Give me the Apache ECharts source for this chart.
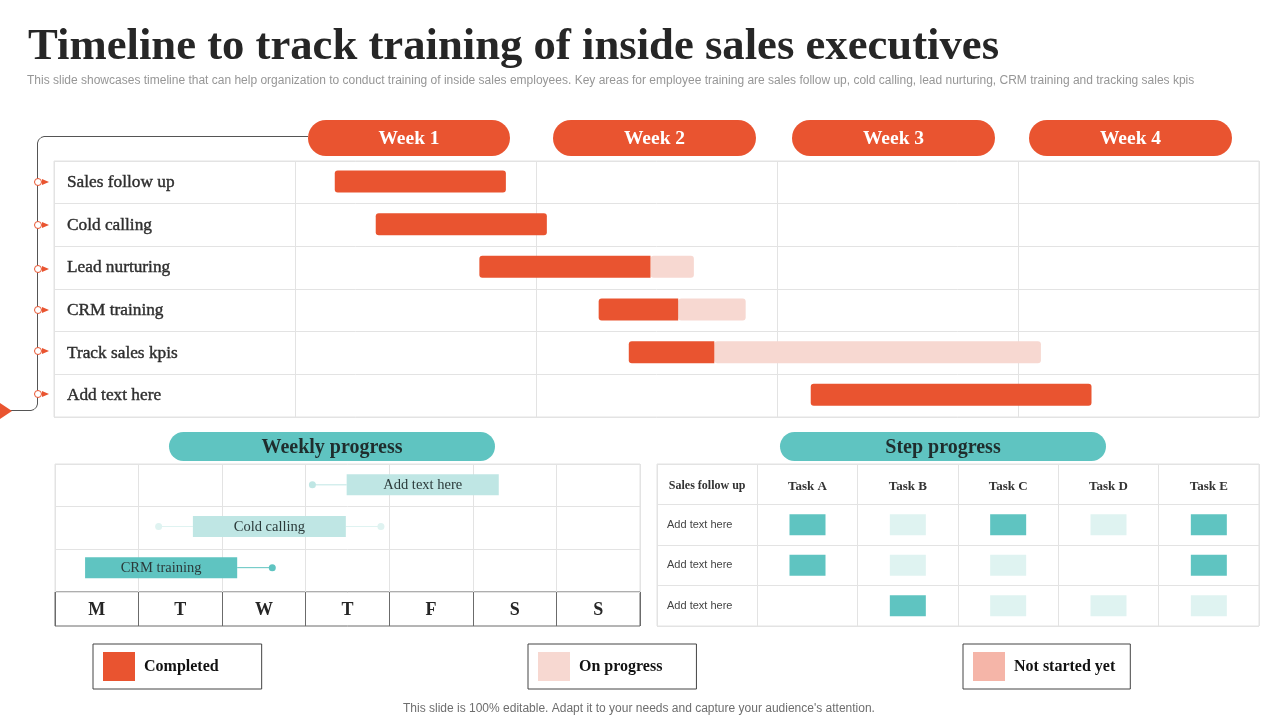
<!DOCTYPE html>
<html>
<head>
<meta charset="utf-8">
<title>Timeline to track training of inside sales executives</title>
<script src="https://cdn.jsdelivr.net/npm/echarts@6/dist/echarts.min.js"></script>
<style>
  html, body { margin: 0; padding: 0; background: #fff; }
  #chart { width: 1280px; height: 720px; }
</style>
</head>
<body>
<div id="chart"></div>
<script>
// main gantt, values are in weeks from the start of week 1
const weekLabels = ["Week 1", "Week 2", "Week 3", "Week 4"];
const taskNames = ["Sales follow up", "Cold calling", "Lead nurturing", "CRM training", "Track sales kpis", "Add text here"];
const taskStart = [0.165, 0.335, 0.765, 1.26, 1.385, 2.14];
const completedEnd = [0.875, 1.045, 1.475, 1.59, 1.74, 3.305];
const progressEnd = [null, null, 1.655, 1.87, 3.095, null];

// weekly progress, values are in days from monday
const dayLabels = ["M", "T", "W", "T", "F", "S", "S"];
const weeklyNames = ["Add text here", "Cold calling", "CRM training"];
const weeklyStart = [3.49, 1.65, 0.36];
const weeklyEnd = [5.31, 3.48, 2.18];
const weeklyFrom = [3.08, 1.24, null];
const weeklyTo = [null, 3.9, 2.6];

// step progress: 2 = done, 1 = pending, 0 = nothing
const stepHeaders = ["Sales follow up", "Task A", "Task B", "Task C", "Task D", "Task E"];
const stepRowNames = ["", "Add text here", "Add text here", "Add text here"];
const stepRow1 = [2, 1, 2, 1, 2];
const stepRow2 = [2, 1, 1, 0, 2];
const stepRow3 = [0, 2, 1, 1, 1];

const RED = "#E95430";
const RED_LIGHT = "#F7D8D1";
const RED_MID = "#F5B5A8";
const TEAL = "#5FC4C1";
const TEAL_MID = "#BFE6E4";
const TEAL_LIGHT = "#DFF3F1";
const GRID_LINE = "#E3E3E3";
const SERIF = "'Liberation Serif'";
const SANS = "'Liberation Sans'";

const chart = echarts.init(document.getElementById("chart"));

function pill(left, top, width, height, fill, text, color, size) {
  return [
    {
      type: "rect",
      shape: { x: left, y: top, width: width, height: height, r: height / 2 },
      style: { fill: fill },
      z: 5,
    },
    {
      type: "text",
      x: left + width / 2,
      y: top + height / 2 + 1,
      style: { text: text, fill: color, font: "bold " + size + "px " + SERIF, align: "center", verticalAlign: "middle" },
      z: 6,
    },
  ];
}

function marker(y) {
  return [
    { type: "polygon", shape: { points: [[42, y - 3], [49, y], [42, y + 3]] }, style: { fill: RED }, z: 6 },
    { type: "circle", shape: { cx: 38, cy: y, r: 3.5 }, style: { fill: "#fff", stroke: RED, lineWidth: 1 }, z: 6 },
  ];
}

const connector = {
  type: "polyline",
  shape: {
    points: [[308, 136.5], [44, 136.5], [41, 137.5], [38.5, 140], [37.5, 143], [37.5, 404], [36.5, 407], [34, 409.5], [31, 410.5], [8, 410.5]],
  },
  style: { stroke: "#555", lineWidth: 1, fill: null },
  z: 4,
};

const graphics = [
  connector,
  { type: "polygon", shape: { points: [[0, 403], [12, 411], [0, 419]] }, style: { fill: RED }, z: 6 },
  ...pill(308, 120, 202, 36, RED, weekLabels[0], "#fff", 19.5),
  ...pill(553, 120, 203, 36, RED, weekLabels[1], "#fff", 19.5),
  ...pill(792, 120, 203, 36, RED, weekLabels[2], "#fff", 19.5),
  ...pill(1029, 120, 203, 36, RED, weekLabels[3], "#fff", 19.5),
  ...pill(169, 432, 326, 29, TEAL, "Weekly progress", "#1F2D2D", 20),
  ...pill(780, 432, 326, 29, TEAL, "Step progress", "#1F2D2D", 20),
];
[182, 225, 269, 310, 351, 394].forEach((y) => graphics.push(...marker(y)));

// bars of the main gantt, one rect per row between two axis values
function renderRange(params, api) {
  const a = api.coord([api.value(1), api.value(0)]);
  const b = api.coord([api.value(2), api.value(0)]);
  const h = 22;
  return {
    type: "rect",
    shape: { x: a[0], y: a[1] - h / 2 - 0.8, width: b[0] - a[0], height: h, r: api.value(3) ? [3, 0, 0, 3] : 3 },
    style: { fill: api.visual("color") },
  };
}

// weekly bars with the thin whisker and end dots
function renderWeekly(params, api) {
  const i = params.dataIndex;
  const a = api.coord([weeklyStart[i], i]);
  const b = api.coord([weeklyEnd[i], i]);
  // bars sit a little above the row centre, more so lower down
  const y = a[1] - [0.5, 1.5, 3][i];
  const fill = [TEAL_MID, TEAL_MID, TEAL][i];
  const thin = [TEAL_MID, TEAL_LIGHT, TEAL][i];
  const children = [];
  [[weeklyFrom[i], a[0]], [weeklyTo[i], b[0]]].forEach((w) => {
    if (w[0] === null) return;
    const px = api.coord([w[0], i])[0];
    children.push({ type: "line", shape: { x1: px, y1: y, x2: w[1], y2: y }, style: { stroke: thin, lineWidth: 1 } });
    children.push({ type: "circle", shape: { cx: px, cy: y, r: 3.5 }, style: { fill: thin } });
  });
  children.push({ type: "rect", shape: { x: a[0], y: y - 10.5, width: b[0] - a[0], height: 21 }, style: { fill: fill } });
  children.push({
    type: "text",
    x: (a[0] + b[0]) / 2,
    y: y + 0.5,
    style: { text: weeklyNames[i], align: "center", verticalAlign: "middle", fill: "#2b3a3a", font: "14.5px " + SERIF },
  });
  return { type: "group", children: children };
}

const completedData = taskNames.map((n, i) => [i, taskStart[i], completedEnd[i], progressEnd[i] === null ? 0 : 1]);
const progressData = taskNames.map((n, i) => [i, completedEnd[i], progressEnd[i]]).filter((d) => d[2] !== null);

function stepCells(level) {
  const cells = [];
  [stepRow1, stepRow2, stepRow3].forEach((row, r) => {
    row.forEach((v, c) => {
      if (v === level) cells.push([c + 1, r + 1]);
    });
  });
  return cells;
}

function legendBox(name, left, rightPad) {
  return {
    data: [name],
    left: left,
    top: 644,
    padding: [8, rightPad, 8, 10],
    itemWidth: 32,
    itemHeight: 29,
    icon: "rect",
    selectedMode: false,
    borderColor: "#444",
    borderWidth: 1,
    textStyle: { fontFamily: SERIF, fontWeight: "bold", fontSize: 16, color: "#111", padding: [0, 0, 8, 4] },
  };
}

chart.setOption({
  animation: false,
  backgroundColor: "#fff",
  title: [
    {
      text: "Timeline to track training of inside sales executives",
      left: 28, top: 25, padding: 0,
      textStyle: { fontFamily: SERIF, fontWeight: "bold", fontSize: 44.7, color: "#262626" },
    },
    {
      text: "This slide showcases timeline that can help organization to conduct training of inside sales employees. Key areas for employee training are sales follow up, cold calling, lead nurturing, CRM training and tracking sales kpis",
      left: 27, top: 75, padding: 0,
      textStyle: { fontFamily: SANS, fontWeight: "normal", fontSize: 12, color: "#969696" },
    },
    {
      text: "This slide is 100% editable. Adapt it to your needs and capture your audience's attention.",
      left: 403, top: 703, padding: 0,
      textStyle: { fontFamily: SANS, fontWeight: "normal", fontSize: 12, color: "#6E6E6E" },
    },
  ],
  legend: [
    legendBox("Completed", 93, 43),
    legendBox("On progress", 528, 34),
    legendBox("Not started yet", 963, 15),
  ],
  grid: [
    { left: 54, top: 161, width: 1205, height: 256, show: true, borderColor: GRID_LINE, backgroundColor: "transparent" },
    { left: 55, top: 464, width: 585, height: 128, show: true, borderColor: GRID_LINE, backgroundColor: "transparent" },
    { left: 55, top: 592, width: 585, height: 34, show: true, borderColor: "#6B6B6B", backgroundColor: "transparent" },
    { left: 657, top: 464, width: 602, height: 162, show: true, borderColor: GRID_LINE, backgroundColor: "transparent" },
  ],
  xAxis: [
    {
      gridIndex: 0, type: "value", min: -1, max: 4, interval: 1,
      axisLabel: { show: false }, axisLine: { show: false }, axisTick: { show: false },
      splitLine: { lineStyle: { color: GRID_LINE } },
    },
    {
      gridIndex: 1, type: "value", min: 0, max: 7, interval: 1,
      axisLabel: { show: false }, axisLine: { show: false }, axisTick: { show: false },
      splitLine: { lineStyle: { color: GRID_LINE } },
    },
    {
      gridIndex: 2, type: "category", data: dayLabels, position: "top",
      axisLine: { show: false }, axisTick: { show: false },
      axisLabel: { inside: true, margin: 9, interval: 0, fontFamily: SERIF, fontWeight: "bold", fontSize: 18, color: "#262626" },
      splitLine: { show: true, interval: 0, lineStyle: { color: "#6B6B6B" } },
    },
    {
      gridIndex: 3, type: "category", data: stepHeaders, position: "top",
      axisLine: { show: false }, axisTick: { show: false },
      axisLabel: {
        inside: true, margin: 16, interval: 0, fontFamily: SERIF, fontWeight: "bold", fontSize: 13, color: "#333",
        formatter: (v) => (v === stepHeaders[0] ? "{first|" + v + "}" : v),
        rich: { first: { fontFamily: SERIF, fontWeight: "bold", fontSize: 12, color: "#333" } },
      },
      splitLine: { show: true, interval: 0, lineStyle: { color: GRID_LINE } },
    },
  ],
  yAxis: [
    {
      gridIndex: 0, type: "category", data: taskNames, inverse: true,
      axisLine: { show: false }, axisTick: { show: false },
      axisLabel: {
        inside: true, margin: 13, align: "left", interval: 0, padding: [6, 0, 0, 0],
        fontFamily: SERIF, fontSize: 17.3, color: "#2E2E2E", textBorderColor: "#2E2E2E", textBorderWidth: 0.4,
      },
      splitLine: { show: true, interval: 0, lineStyle: { color: GRID_LINE } },
    },
    {
      gridIndex: 1, type: "category", data: weeklyNames, inverse: true,
      axisLabel: { show: false }, axisLine: { show: false }, axisTick: { show: false },
      splitLine: { show: true, interval: 0, lineStyle: { color: GRID_LINE } },
    },
    {
      gridIndex: 2, type: "value", min: 0, max: 1,
      axisLabel: { show: false }, axisLine: { show: false }, axisTick: { show: false }, splitLine: { show: false },
    },
    {
      gridIndex: 3, type: "category", data: stepRowNames, inverse: true,
      axisLine: { show: false }, axisTick: { show: false },
      axisLabel: { inside: true, margin: 10, align: "left", interval: 0, padding: [2, 0, 0, 0], fontFamily: SANS, fontSize: 11, color: "#444" },
      splitLine: { show: true, interval: 0, lineStyle: { color: GRID_LINE } },
    },
  ],
  series: [
    { name: "On progress", type: "custom", xAxisIndex: 0, yAxisIndex: 0, renderItem: renderRange, encode: { x: [1, 2], y: 0 }, data: progressData, itemStyle: { color: RED_LIGHT }, z: 3 },
    { name: "Completed", type: "custom", xAxisIndex: 0, yAxisIndex: 0, renderItem: renderRange, encode: { x: [1, 2], y: 0 }, data: completedData, itemStyle: { color: RED }, z: 4 },
    { name: "Not started yet", type: "custom", xAxisIndex: 0, yAxisIndex: 0, renderItem: renderRange, encode: { x: [1, 2], y: 0 }, data: [], itemStyle: { color: RED_MID } },
    { name: "Weekly progress", type: "custom", xAxisIndex: 1, yAxisIndex: 1, renderItem: renderWeekly, data: weeklyNames.map((n, i) => [weeklyStart[i], i]), encode: { x: 0, y: 1 }, clip: false },
    { name: "Step done", type: "scatter", xAxisIndex: 3, yAxisIndex: 3, symbol: "rect", symbolSize: [36, 21], data: stepCells(2), itemStyle: { color: TEAL, opacity: 1 } },
    { name: "Step pending", type: "scatter", xAxisIndex: 3, yAxisIndex: 3, symbol: "rect", symbolSize: [36, 21], data: stepCells(1), itemStyle: { color: TEAL_LIGHT, opacity: 1 } },
  ],
  graphic: graphics,
});
</script>
</body>
</html>
